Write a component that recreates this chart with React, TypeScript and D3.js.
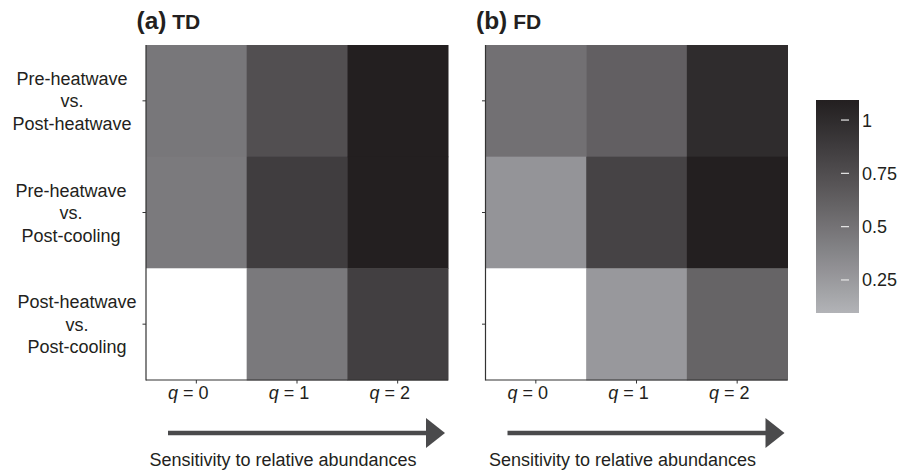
import React from "react";
import * as d3 from "d3";

// ---- data ----
const comparisons = [
  ["Pre-heatwave", "vs.", "Post-heatwave"],
  ["Pre-heatwave", "vs.", "Post-cooling"],
  ["Post-heatwave", "vs.", "Post-cooling"],
];
const qLevels = ["0", "1", "2"];
const tdValues: (number | null)[][] = [
  [0.47, 0.736, 1.094],
  [0.45, 0.866, 1.094],
  [null, 0.457, 0.851],
];
const fdValues: (number | null)[][] = [
  [0.515, 0.625, 0.994],
  [0.283, 0.821, 1.094],
  [null, 0.258, 0.597],
];
const panelTitles = [
  { tag: "(a)", name: "TD" },
  { tag: "(b)", name: "FD" },
];
const legendTicks = [0.25, 0.5, 0.75, 1];
const colorDomain = [0.095, 1.094];

const FONT = "'Liberation Sans', Arial, Helvetica, sans-serif";
const W = 912;
const H = 475;

const color = d3
  .scaleLinear<string>()
  .domain(colorDomain)
  .range(["#b2b3b7", "#231f20"])
  .interpolate(d3.interpolateLab);

const labelCenters = [72, 71, 77];

function Panel({
  x0,
  values,
  title,
  showLabels,
}: {
  x0: number;
  values: (number | null)[][];
  title: { tag: string; name: string };
  showLabels: boolean;
}) {
  const x = d3.scaleBand<string>().domain(qLevels).range([x0, x0 + 302]);
  const rowKeys = comparisons.map((_, i) => String(i));
  const y = d3.scaleBand<string>().domain(rowKeys).range([45, 380]);
  const axisColor = "#333";
  return (
    <g>
      <text x={x0 - 9.5} y={29} fontFamily={FONT} fontWeight="bold" fill="#231f20">
        <tspan fontSize={24.5}>{title.tag}</tspan>
        <tspan fontSize={21}> {title.name}</tspan>
      </text>
      {values.map((row, ri) =>
        row.map((v, ci) => (
          <rect
            key={`${ri}-${ci}`}
            x={x(qLevels[ci])!}
            y={y(rowKeys[ri])!}
            width={x.bandwidth() + 0.5}
            height={y.bandwidth() + 0.5}
            fill={v == null ? "#ffffff" : color(v)}
          />
        ))
      )}
      {/* axes */}
      <line x1={x0} x2={x0} y1={45} y2={380.5} stroke={axisColor} strokeWidth={1.2} />
      <line x1={x0} x2={x0 + 302} y1={380} y2={380} stroke={axisColor} strokeWidth={1.2} />
      {rowKeys.map((k) => {
        const yc = y(k)! + y.bandwidth() / 2;
        return <line key={k} x1={x0 - 3.5} x2={x0} y1={yc} y2={yc} stroke={axisColor} strokeWidth={1} />;
      })}
      {qLevels.map((q) => {
        const xc = x(q)! + x.bandwidth() / 2;
        return (
          <g key={q}>
            <line x1={xc} x2={xc} y1={380} y2={383.5} stroke={axisColor} strokeWidth={1} />
            <text x={xc - 8} y={399} textAnchor="middle" fontFamily={FONT} fontSize={18} fill="#231f20">
              <tspan fontStyle="italic">q</tspan>
              <tspan> = {q}</tspan>
            </text>
          </g>
        );
      })}
      {showLabels &&
        comparisons.map((lines, ri) => {
          const yc = y(rowKeys[ri])! + y.bandwidth() / 2;
          return (
            <text key={ri} textAnchor="middle" fontFamily={FONT} fontSize={18} fill="#231f20">
              {lines.map((ln, li) => (
                <tspan key={li} x={labelCenters[ri]} y={yc + 6.5 + (li - 1) * 22.5}>
                  {ln}
                </tspan>
              ))}
            </text>
          );
        })}
      {/* arrow */}
      <line x1={x0 + 22} x2={x0 + 282} y1={433} y2={433} stroke="#4a4a4c" strokeWidth={4.5} />
      <path
        d={`M${x0 + 299},433 L${x0 + 280},418 L${x0 + 280},448 Z`}
        fill="#4a4a4c"
      />
      <text x={x0 + 137} y={466} textAnchor="middle" fontFamily={FONT} fontSize={18} fill="#231f20">
        Sensitivity to relative abundances
      </text>
    </g>
  );
}

function Legend() {
  const top = 100;
  const bottom = 313;
  const left = 816;
  const right = 859;
  const ly = d3.scaleLinear().domain(colorDomain).range([bottom, top]);
  const stops = d3.range(0, 11).map((i) => i / 10);
  return (
    <g>
      <defs>
        <linearGradient id="cbar" x1="0" y1="1" x2="0" y2="0">
          {stops.map((t) => (
            <stop
              key={t}
              offset={t}
              stopColor={color(colorDomain[0] + t * (colorDomain[1] - colorDomain[0]))}
            />
          ))}
        </linearGradient>
      </defs>
      <rect x={left} y={top} width={right - left} height={bottom - top} fill="url(#cbar)" />
      {legendTicks.map((t) => (
        <g key={t}>
          <line x1={841} x2={849} y1={ly(t)} y2={ly(t)} stroke="#e8e8e8" strokeWidth={1.2} />
          <text x={862} y={ly(t) + 6.5} fontFamily={FONT} fontSize={18} fill="#231f20">
            {String(t)}
          </text>
        </g>
      ))}
    </g>
  );
}

export default function App() {
  return (
    <svg width={W} height={H} style={{ position: "absolute", left: 0, top: 0 }}>
      <rect width={W} height={H} fill="#fff" />
      <Panel x0={146} values={tdValues} title={panelTitles[0]} showLabels={true} />
      <Panel x0={485.5} values={fdValues} title={panelTitles[1]} showLabels={false} />
      <Legend />
    </svg>
  );
}
